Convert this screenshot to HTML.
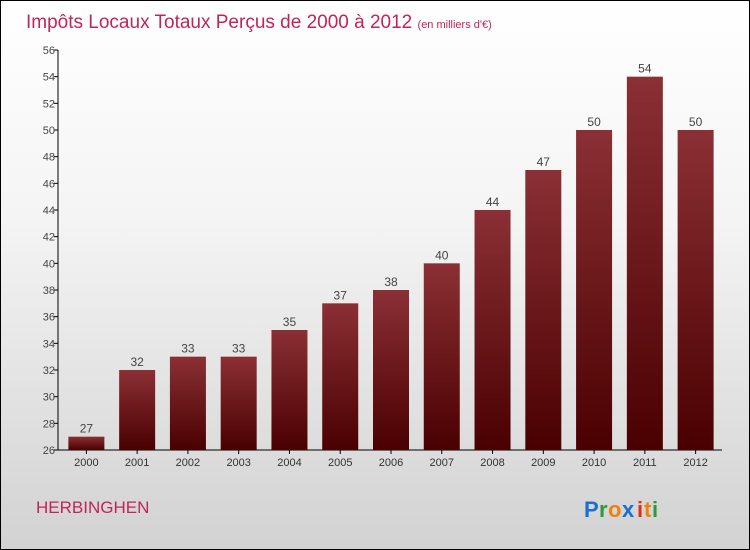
<!DOCTYPE html>
<html><head><meta charset="utf-8"><style>
body{margin:0;}
#wrap{position:relative;width:748px;height:548px;border:1px solid #000;background:linear-gradient(#ffffff 0%,#f4f4f4 40%,#d2d2d2 100%);font-family:"Liberation Sans",sans-serif;overflow:hidden;}
</style></head><body>
<div id="wrap">
<svg width="748" height="548" id="svg">
<defs><linearGradient id="bg" x1="0" y1="0" x2="0" y2="1"><stop offset="0" stop-color="#8b3035"/><stop offset="1" stop-color="#4a0000"/></linearGradient></defs>
<text x="25" y="27" font-size="19" fill="#c0255a">Impôts Locaux Totaux Perçus de 2000 à 2012 <tspan font-size="11">(en milliers d'€)</tspan></text>
<text x="35" y="512" font-size="17" fill="#c0255a">HERBINGHEN</text>
<g font-size="22" font-weight="bold">
<text x="583" y="516" fill="#1a6fd0">P</text><text x="598" y="516" fill="#2a9a3a">r</text><text x="607" y="516" fill="#f08010">o</text><text x="621" y="516" fill="#1a6fd0">x</text><text x="636" y="516" fill="#e03010">i</text><text x="643" y="516" fill="#f08010">t</text><text x="651" y="516" fill="#2a9a3a">i</text></g>
<g id="g"></g>
</svg></div>
<script>
const categories=["2000","2001","2002","2003","2004","2005","2006","2007","2008","2009","2010","2011","2012"];
const values=[27,32,33,33,35,37,38,40,44,47,50,54,50];
const yTicks=[26,28,30,32,34,36,38,40,42,44,46,48,50,52,54,56];
const yMin=26,yMax=56,top0=49,bot=449,axX=57,x0=61,x1=721;
const y=v=>bot-(v-yMin)/(yMax-yMin)*(bot-top0);
const step=(x1-x0)/categories.length;
const xc=i=>x0+step*(i+0.5)-1;
const g=document.getElementById('g');const NS="http://www.w3.org/2000/svg";
function mk(t,a){const e=document.createElementNS(NS,t);for(const k in a)e.setAttribute(k,a[k]);g.appendChild(e);return e;}
let ax=mk('line',{x1:axX,x2:axX,y1:top0,y2:bot,stroke:'#000'});


let bx=mk('line',{x1:axX,x2:x1,y1:bot,y2:bot,stroke:'#000'});


yTicks.forEach(v=>{
 let t=mk('line',{x1:axX-4,x2:axX,y1:y(v),y2:y(v),stroke:'#000'});
 
 
 let l=mk('text',{x:axX-3,y:y(v)+4,'font-size':11,fill:'#444','text-anchor':'end'});l.textContent=v;
 
 
});
categories.forEach((c,i)=>{
 const w=36,v=values[i];
 let b=mk('rect',{x:xc(i)-w/2,y:y(v),width:w,height:bot-y(v),fill:'url(#bg)'});
 
 
 let t=mk('line',{x1:xc(i),x2:xc(i),y1:bot,y2:bot+4,stroke:'#000'});
 
 
 let l=mk('text',{x:xc(i),y:bot+16,'font-size':11,fill:'#333','text-anchor':'middle'});l.textContent=c;
 
 
 let vl=mk('text',{x:xc(i),y:y(v)-4,'font-size':12,fill:'#444','text-anchor':'middle'});vl.textContent=v;
 
 
});
</script>
</body></html>
